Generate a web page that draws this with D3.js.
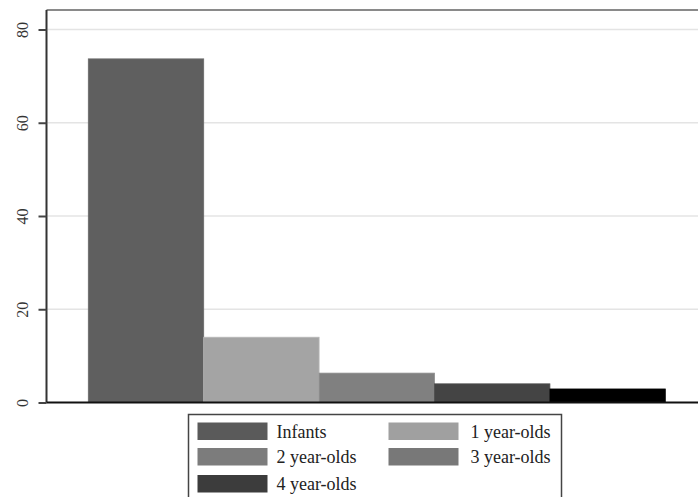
<!DOCTYPE html>
<html>
<head>
<meta charset="utf-8">
<script src="https://cdn.jsdelivr.net/npm/d3@7"></script>
<style>
  html, body { margin: 0; padding: 0; background: #ffffff; }
  svg { display: block; }
</style>
</head>
<body>
<svg id="chart" width="698" height="497"></svg>
<script>
// ---- data ----
const categories = ["Infants", "1 year-olds", "2 year-olds", "3 year-olds", "4 year-olds"];
const values = [73.7, 14.0, 6.3, 4.0, 2.9];
const yTicks = [0, 20, 40, 60, 80];
const barColors = ["#5f5f5f", "#a4a4a4", "#808080", "#444444", "#000000"];
const legendColors = ["#5a5a5a", "#a0a0a0", "#7c7c7c", "#787878", "#3c3c3c"];

// ---- layout ----
const svg = d3.select("#chart");
const plot = { left: 46.5, right: 706, top: 10, bottom: 402.5 };

const y = d3.scaleLinear().domain([0, 80]).range([plot.bottom, 29.5]);
const x = d3.scaleBand().domain(categories)
  .range([88.3, 665.3]).paddingInner(0).paddingOuter(0);

// gridlines
svg.append("g")
  .selectAll("line").data(yTicks.filter(d => d > 0)).join("line")
  .attr("x1", plot.left + 1).attr("x2", 698)
  .attr("y1", d => y(d)).attr("y2", d => y(d))
  .attr("stroke", "#e4e4e4").attr("stroke-width", 1.5);

// top border
svg.append("line")
  .attr("x1", plot.left).attr("x2", 698)
  .attr("y1", plot.top).attr("y2", plot.top)
  .attr("stroke", "#8a8a8a").attr("stroke-width", 2);

// bars
svg.append("g")
  .selectAll("rect").data(values).join("rect")
  .attr("x", (d, i) => x(categories[i]))
  .attr("width", x.bandwidth())
  .attr("y", d => y(d))
  .attr("height", d => y(0) - y(d))
  .attr("fill", (d, i) => barColors[i])
  .attr("stroke", (d, i) => d3.color(barColors[i]).brighter(0.3))
  .attr("stroke-width", 0.8);

// y axis
const yAxis = d3.axisLeft(y).tickValues(yTicks).tickSize(8).tickPadding(10);
const gy = svg.append("g").attr("transform", `translate(${plot.left},0)`).call(yAxis);
gy.select(".domain").attr("stroke", "#333").attr("stroke-width", 2)
  .attr("d", `M0,${plot.top}V${plot.bottom}`);
gy.selectAll(".tick line").attr("stroke", "#444").attr("stroke-width", 2);
gy.selectAll(".tick text")
  .attr("font-family", "'Liberation Serif', 'DejaVu Serif', serif")
  .attr("font-size", 16)
  .attr("fill", "#333")
  .attr("text-anchor", "middle")
  .attr("x", 0).attr("dy", 0)
  .attr("transform", d => `translate(-24,0) rotate(-90)`)
  .attr("dominant-baseline", "central");

// x axis baseline
svg.append("line")
  .attr("x1", plot.left).attr("x2", 698)
  .attr("y1", plot.bottom).attr("y2", plot.bottom)
  .attr("stroke", "#111").attr("stroke-width", 2);

// legend
const lg = svg.append("g");
lg.append("rect")
  .attr("x", 188.5).attr("y", 414.5).attr("width", 373).attr("height", 100)
  .attr("fill", "#ffffff").attr("stroke", "#444").attr("stroke-width", 1.5);
const colX = [197.5, 388.5];
const rowY = [422.5, 448, 475];
const items = lg.selectAll("g.item").data(categories).join("g")
  .attr("transform", (d, i) => `translate(${colX[i % 2]},${rowY[Math.floor(i / 2)]})`);
items.append("rect")
  .attr("width", 70).attr("height", 17.5)
  .attr("fill", (d, i) => legendColors[i]);
items.append("text")
  .attr("x", (d, i) => i % 2 === 0 ? 79 : 82)
  .attr("y", 9)
  .attr("dominant-baseline", "central")
  .attr("font-family", "'Liberation Serif', 'DejaVu Serif', serif")
  .attr("font-size", 18)
  .attr("fill", "#222")
  .text(d => d);
</script>
</body>
</html>
